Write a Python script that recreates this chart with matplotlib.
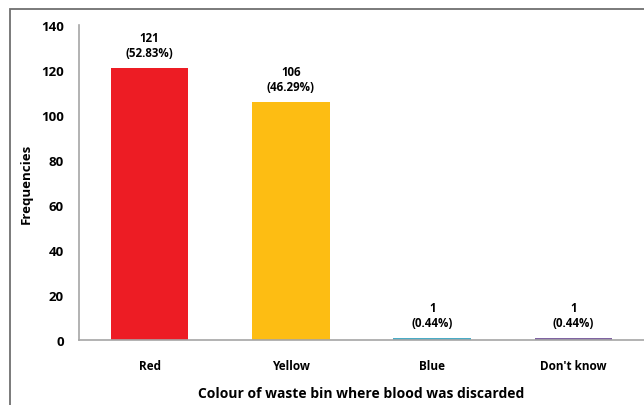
import matplotlib.pyplot as plt
from matplotlib.patches import Rectangle

categories = ["Red", "Yellow", "Blue", "Don't know"]
counts = [121, 106, 1, 1]
percents = [52.83, 46.29, 0.44, 0.44]
bar_colors = ["#ED1C24", "#FDBD13", "#4BACC6", "#8064A2"]
yticks = [0, 20, 40, 60, 80, 100, 120, 140]

plt.rcParams['font.family'] = ['Open Sans', 'DejaVu Sans']
plt.rcParams['font.weight'] = 'bold'

fig = plt.figure(figsize=(6.44, 4.06), dpi=100)
ax = fig.add_axes([79 / 644, 65 / 406, 1 - 79 / 644, 315 / 406])

x = range(len(categories))
ax.bar(x, counts, width=0.55, color=bar_colors)

for i, (c, p) in enumerate(zip(counts, percents)):
    ax.annotate(f"{c}\n({p:.2f}%)", (i, c), xytext=(0, 6), textcoords="offset points",
                ha="center", va="bottom", fontsize=8.3, fontweight="bold",
                linespacing=1.25)

ax.set_xlim(-0.5, 3.5)
ax.set_ylim(0, 140)
ax.set_yticks(yticks)
ax.set_xticks(list(x))
ax.set_xticklabels(categories)
ax.tick_params(axis="both", length=0, labelsize=8.5)
ax.tick_params(axis="y", labelsize=9.5)
ax.tick_params(axis="x", pad=14)
ax.tick_params(axis="y", pad=11)
for lab in ax.get_xticklabels() + ax.get_yticklabels():
    lab.set_fontweight("bold")

for side in ("top", "right"):
    ax.spines[side].set_visible(False)
for side in ("left", "bottom"):
    ax.spines[side].set_color("#A6A6A6")
    ax.spines[side].set_linewidth(1.2)

ax.set_ylabel("Frequencies", fontsize=9.5, fontweight="bold", labelpad=6)
ax.set_xlabel("Colour of waste bin where blood was discarded", fontsize=10,
              fontweight="bold", labelpad=10)

# outer frame around the chart area
fig.patches.append(Rectangle((10 / 644, -0.05), 1.2, 1 - 10 / 406 + 0.05,
                             transform=fig.transFigure, fill=False,
                             edgecolor="#707070", linewidth=1.3))

fig.savefig("out.png", dpi=100)
